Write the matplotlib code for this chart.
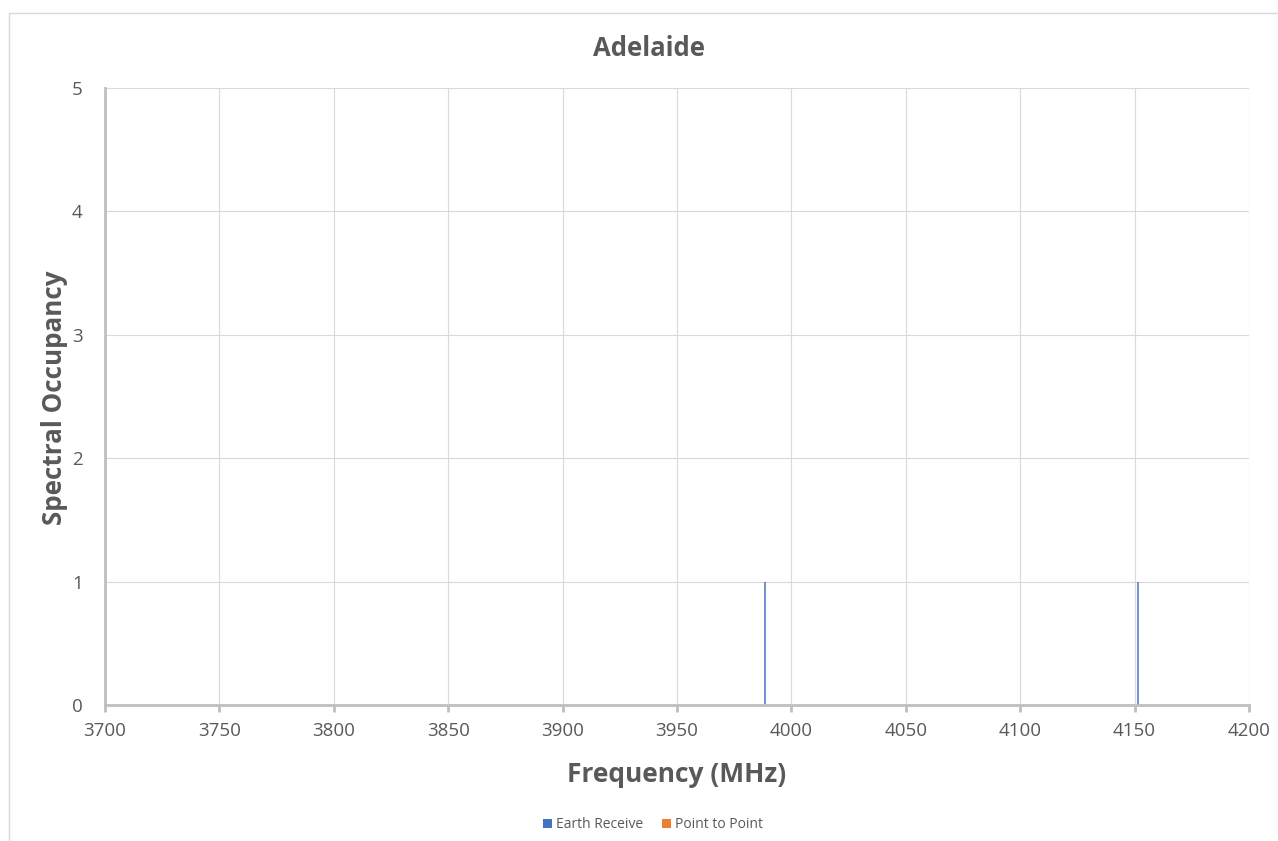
import matplotlib
matplotlib.use("Agg")
import matplotlib.pyplot as plt
from matplotlib.patches import Patch, Rectangle

plt.rcParams['font.family'] = ['Open Sans', 'DejaVu Sans']

title = "Adelaide"
x_label = "Frequency (MHz)"
y_label = "Spectral Occupancy"
earth_receive_freq = [3988.5, 4151.5]
earth_receive_occ = [1, 1]
point_to_point_freq = []
point_to_point_occ = []
x_ticks = [3700, 3750, 3800, 3850, 3900, 3950, 4000, 4050, 4100, 4150, 4200]
y_ticks = [0, 1, 2, 3, 4, 5]
series_names = ["Earth Receive", "Point to Point"]
series_colors = ["#4472C4", "#ED7D31"]

fig = plt.figure(figsize=(12.78, 8.41), dpi=100)
# chart border
fig.patches.append(Rectangle((9/1278, -0.1), 1.2, 1 - 13/841 + 0.1, transform=fig.transFigure,
                             fill=False, edgecolor="#D9D9D9", linewidth=1.0))
ax = fig.add_axes([105/1278, 1 - 705/841, (1249 - 105)/1278, (705 - 88)/841])

ax.bar(earth_receive_freq, earth_receive_occ, width=0.55, color=series_colors[0], alpha=0.75, zorder=3)
if point_to_point_freq:
    ax.bar(point_to_point_freq, point_to_point_occ, width=0.55, color=series_colors[1], zorder=3)

ax.set_xlim(3700, 4200)
ax.set_ylim(0, 5)
ax.set_xticks(x_ticks)
ax.set_yticks(y_ticks)
ax.grid(True, color="#D9D9D9", linewidth=0.8, zorder=0)
ax.set_axisbelow(True)

for s in ["top", "right"]:
    ax.spines[s].set_visible(False)
for s in ["left", "bottom"]:
    ax.spines[s].set_color("#BFBFBF")
    ax.spines[s].set_linewidth(2.0)
    ax.spines[s].set_zorder(4)

ax.tick_params(axis="x", length=5, width=2, color="#BFBFBF", labelsize=13.5, labelcolor="#595959", pad=7)
ax.tick_params(axis="y", length=0, labelsize=13.5, labelcolor="#595959", pad=16)

fig.text(649/1278, 1 - 48/841, title, fontsize=18.5, fontweight="bold", color="#595959",
         ha="center", va="center")
ax.set_xlabel(x_label, fontsize=19, fontweight="bold", color="#595959", labelpad=15)
fig.text(55/1278, 1 - ((88 + 705) / 2 + 1) / 841, y_label, fontsize=18.7, fontweight="bold",
         color="#595959", rotation=90, ha="center", va="center")

handles = [Patch(facecolor=c, edgecolor="none") for c in series_colors]
fig.legend(handles, series_names, loc="center", bbox_to_anchor=(653/1278, 1 - 825/841), ncol=2,
           frameon=False, fontsize=10, labelcolor="#595959", handlelength=0.6, handleheight=0.6,
           handletextpad=0.3, columnspacing=1.4)

fig.savefig("out.png", dpi=100, facecolor="white")
